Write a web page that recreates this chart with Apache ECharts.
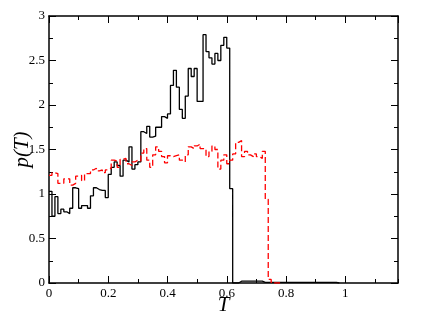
<!DOCTYPE html>
<html>
<head>
<meta charset="utf-8">
<script src="https://cdn.jsdelivr.net/npm/echarts@6/dist/echarts.min.js"></script>
<style>html,body{margin:0;padding:0;background:#fff;}#chart{width:430px;height:332px;}</style>
</head>
<body>
<div id="chart"></div>
<script>
// Histogram bin width (T units); bins start at T = 0
const binWidth = 0.01;

// Black solid histogram p(T), one value per bin from T = 0
const blackHist = [
  1.03, 0.75, 0.97, 0.78, 0.83, 0.80, 0.78, 0.84, 1.07, 1.06,
  0.84, 0.87, 0.87, 0.84, 0.98, 1.07, 1.05, 1.04, 1.04, 0.96,
  1.22, 1.30, 1.36, 1.32, 1.20, 1.38, 1.36, 1.53, 1.28, 1.33,
  1.36, 1.70, 1.68, 1.76, 1.64, 1.65, 1.75, 1.75, 1.87, 1.85,
  1.90, 2.22, 2.39, 2.20, 1.95, 1.85, 2.10, 2.41, 2.32, 2.41,
  2.04, 2.04, 2.79, 2.60, 2.53, 2.46, 2.58, 2.50, 2.67, 2.76,
  2.64, 1.06, 0, 0, 0.02, 0.02, 0.02, 0.02, 0.02, 0.02,
  0.02, 0.02, 0.007, 0.007, 0.007, 0.007, 0.007, 0.007, 0.007, 0.007,
  0.007, 0.007, 0.007, 0.007, 0.007, 0.007, 0.007, 0.007, 0.007, 0.007,
  0.007, 0.007, 0.007, 0.007, 0.007, 0.007, 0.007, 0
];

// Red dashed histogram p(T), one value per bin from T = 0
const redHist = [
  1.21, 1.24, 1.23, 1.12, 1.12, 1.17, 1.17, 1.10, 1.12, 1.20,
  1.21, 1.15, 1.23, 1.23, 1.27, 1.29, 1.26, 1.27, 1.24, 1.27,
  1.29, 1.38, 1.37, 1.30, 1.39, 1.40, 1.34, 1.32, 1.36, 1.38,
  1.37, 1.46, 1.51, 1.38, 1.30, 1.44, 1.53, 1.48, 1.42, 1.35,
  1.43, 1.42, 1.43, 1.44, 1.38, 1.36, 1.44, 1.53, 1.51, 1.54,
  1.56, 1.51, 1.51, 1.42, 1.48, 1.54, 1.50, 1.28, 1.38, 1.44,
  1.34, 1.38, 1.45, 1.58, 1.60, 1.42, 1.48, 1.44, 1.42, 1.45,
  1.42, 1.40, 1.48, 0.94, 0.04, 0, 0, 0
];

// Axis ticks
const xMin = 0, xMax = 1.178, xMajor = 0.2, xMinor = 0.1;
const yMin = 0, yMax = 3, yMajor = 0.5, yMinor = 0.25;

function stepData(vals) {
  const d = vals.map((v, i) => [+(i * binWidth).toFixed(4), v]);
  d.push([+(vals.length * binWidth).toFixed(4), vals[vals.length - 1]]);
  return d;
}

const FONT = '"Liberation Serif", "Times New Roman", serif';
const lbl = { fontFamily: FONT, fontSize: 13, color: '#000' };

function xAx(pos, interval, len, withLine, withLabel, extra) {
  return Object.assign({
    type: 'value', position: pos, min: xMin, max: xMax, interval: interval,
    axisLine: { show: withLine, onZero: false, lineStyle: { color: '#000', width: 1.5 } },
    axisTick: { show: true, inside: true, length: len, lineStyle: { color: '#000', width: 1 } },
    axisLabel: withLabel ? Object.assign({ margin: 4, showMaxLabel: false }, lbl) : { show: false },
    splitLine: { show: false }
  }, extra || {});
}
function yAx(pos, interval, len, withLine, withLabel, extra) {
  return Object.assign({
    type: 'value', position: pos, min: yMin, max: yMax, interval: interval,
    axisLine: { show: withLine, onZero: false, lineStyle: { color: '#000', width: 1.5 } },
    axisTick: { show: true, inside: true, length: len, lineStyle: { color: '#000', width: 1 } },
    axisLabel: withLabel ? Object.assign({ margin: 4 }, lbl) : { show: false },
    splitLine: { show: false }
  }, extra || {});
}

const chart = echarts.init(document.getElementById('chart'), null, { renderer: 'canvas' });
chart.setOption({
  animation: false,
  backgroundColor: '#fff',
  grid: { left: 49, top: 16, width: 349, height: 267, containLabel: false, outerBoundsMode: 'none' },
  xAxis: [
    xAx('bottom', xMajor, 7, true, true, {
      name: 'T', nameLocation: 'middle', nameGap: 12, nameMoveOverlap: false,
      nameTextStyle: { fontFamily: FONT, fontStyle: 'italic', fontSize: 21, color: '#000' }
    }),
    xAx('bottom', xMinor, 4, false, false),
    xAx('top', xMajor, 7, true, false),
    xAx('top', xMinor, 4, false, false)
  ],
  yAxis: [
    yAx('left', yMajor, 7, true, true, {
      name: 'p(T)', nameLocation: 'middle', nameGap: 16, nameMoveOverlap: false,
      nameTextStyle: { fontFamily: FONT, fontStyle: 'italic', fontSize: 21, color: '#000' }
    }),
    yAx('left', yMinor, 4, false, false),
    yAx('right', yMajor, 7, true, false),
    yAx('right', yMinor, 4, false, false)
  ],
  series: [
    {
      type: 'line', step: 'end', symbol: 'none', xAxisIndex: 0, yAxisIndex: 0,
      data: stepData(blackHist),
      lineStyle: { color: '#000', width: 1.3 }, z: 3
    },
    {
      type: 'line', step: 'end', symbol: 'none', xAxisIndex: 0, yAxisIndex: 0,
      data: stepData(redHist),
      lineStyle: { color: '#ff0000', width: 1.3, type: [6, 3] }, z: 4
    }
  ]
});
</script>
</body>
</html>
